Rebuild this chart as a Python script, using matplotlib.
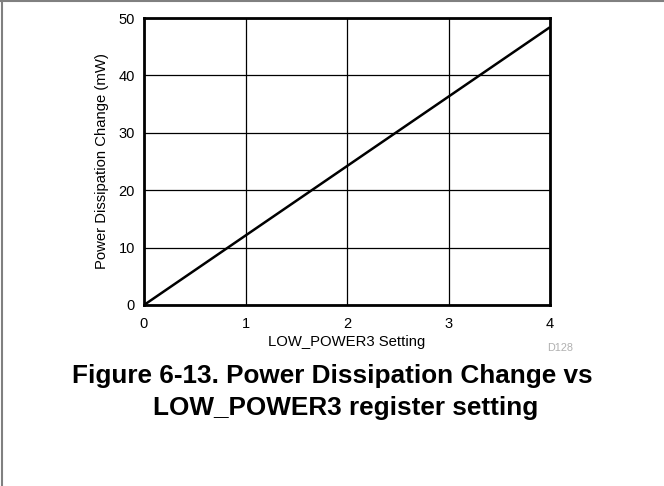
import numpy as np
import matplotlib.pyplot as plt
from matplotlib.lines import Line2D

plt.rcParams['font.family'] = ['Liberation Sans', 'DejaVu Sans']

# LOW_POWER3 register setting vs added power dissipation
setting = [0, 1, 2, 3, 4]
power_mw = [0, 12.1, 24.2, 36.3, 48.4]

x_ticks = [0, 1, 2, 3, 4]
y_ticks = [0, 10, 20, 30, 40, 50]

W, H = 664, 486
fig = plt.figure(figsize=(W / 100, H / 100), dpi=100)
ax = fig.add_axes([144 / W, 1 - 305 / H, 406 / W, 287 / H])

ax.plot(setting, power_mw, color='black', lw=1.8, solid_capstyle='butt')

ax.set_xlim(0, 4)
ax.set_ylim(0, 50)
ax.set_xticks(x_ticks)
ax.set_yticks(y_ticks)
ax.tick_params(length=0, labelsize=10.5)
ax.tick_params(axis='x', pad=9)
ax.tick_params(axis='y', pad=6.5)
ax.grid(True, color='black', lw=0.9)
for s in ax.spines.values():
    s.set_linewidth(2)

ax.set_xlabel("LOW_POWER3 Setting", fontsize=10.7)
ax.xaxis.set_label_coords(0.5, (305 - 346) / 287)
ax.xaxis.label.set_va('baseline')

ax.set_ylabel("Power Dissipation Change (mW)", fontsize=10.7)
ax.yaxis.set_label_coords((102 - 144) / 406, 0.5)
ax.yaxis.label.set_va('center')

fig.text(547 / W, 1 - 348 / H, "D128", fontsize=7.8, color='#b0b0b0',
         ha='left', va='center')

# two-line caption below the plot
fig.text(332 / W, 1 - 383 / H, "Figure 6-13. Power Dissipation Change vs",
         fontsize=18.8, fontweight='bold', ha='center', va='baseline')
fig.text(346 / W, 1 - 415 / H, "LOW_POWER3 register setting",
         fontsize=18.8, fontweight='bold', ha='center', va='baseline')

# thin page border along the top and left edges
fig.add_artist(Line2D([0, 1], [1 - 1.5 / H] * 2, transform=fig.transFigure,
                      color='#808080', lw=1.5))
fig.add_artist(Line2D([1.5 / W] * 2, [0, 1], transform=fig.transFigure,
                      color='#808080', lw=1.5))

fig.savefig("out.png", dpi=100, facecolor='white')
